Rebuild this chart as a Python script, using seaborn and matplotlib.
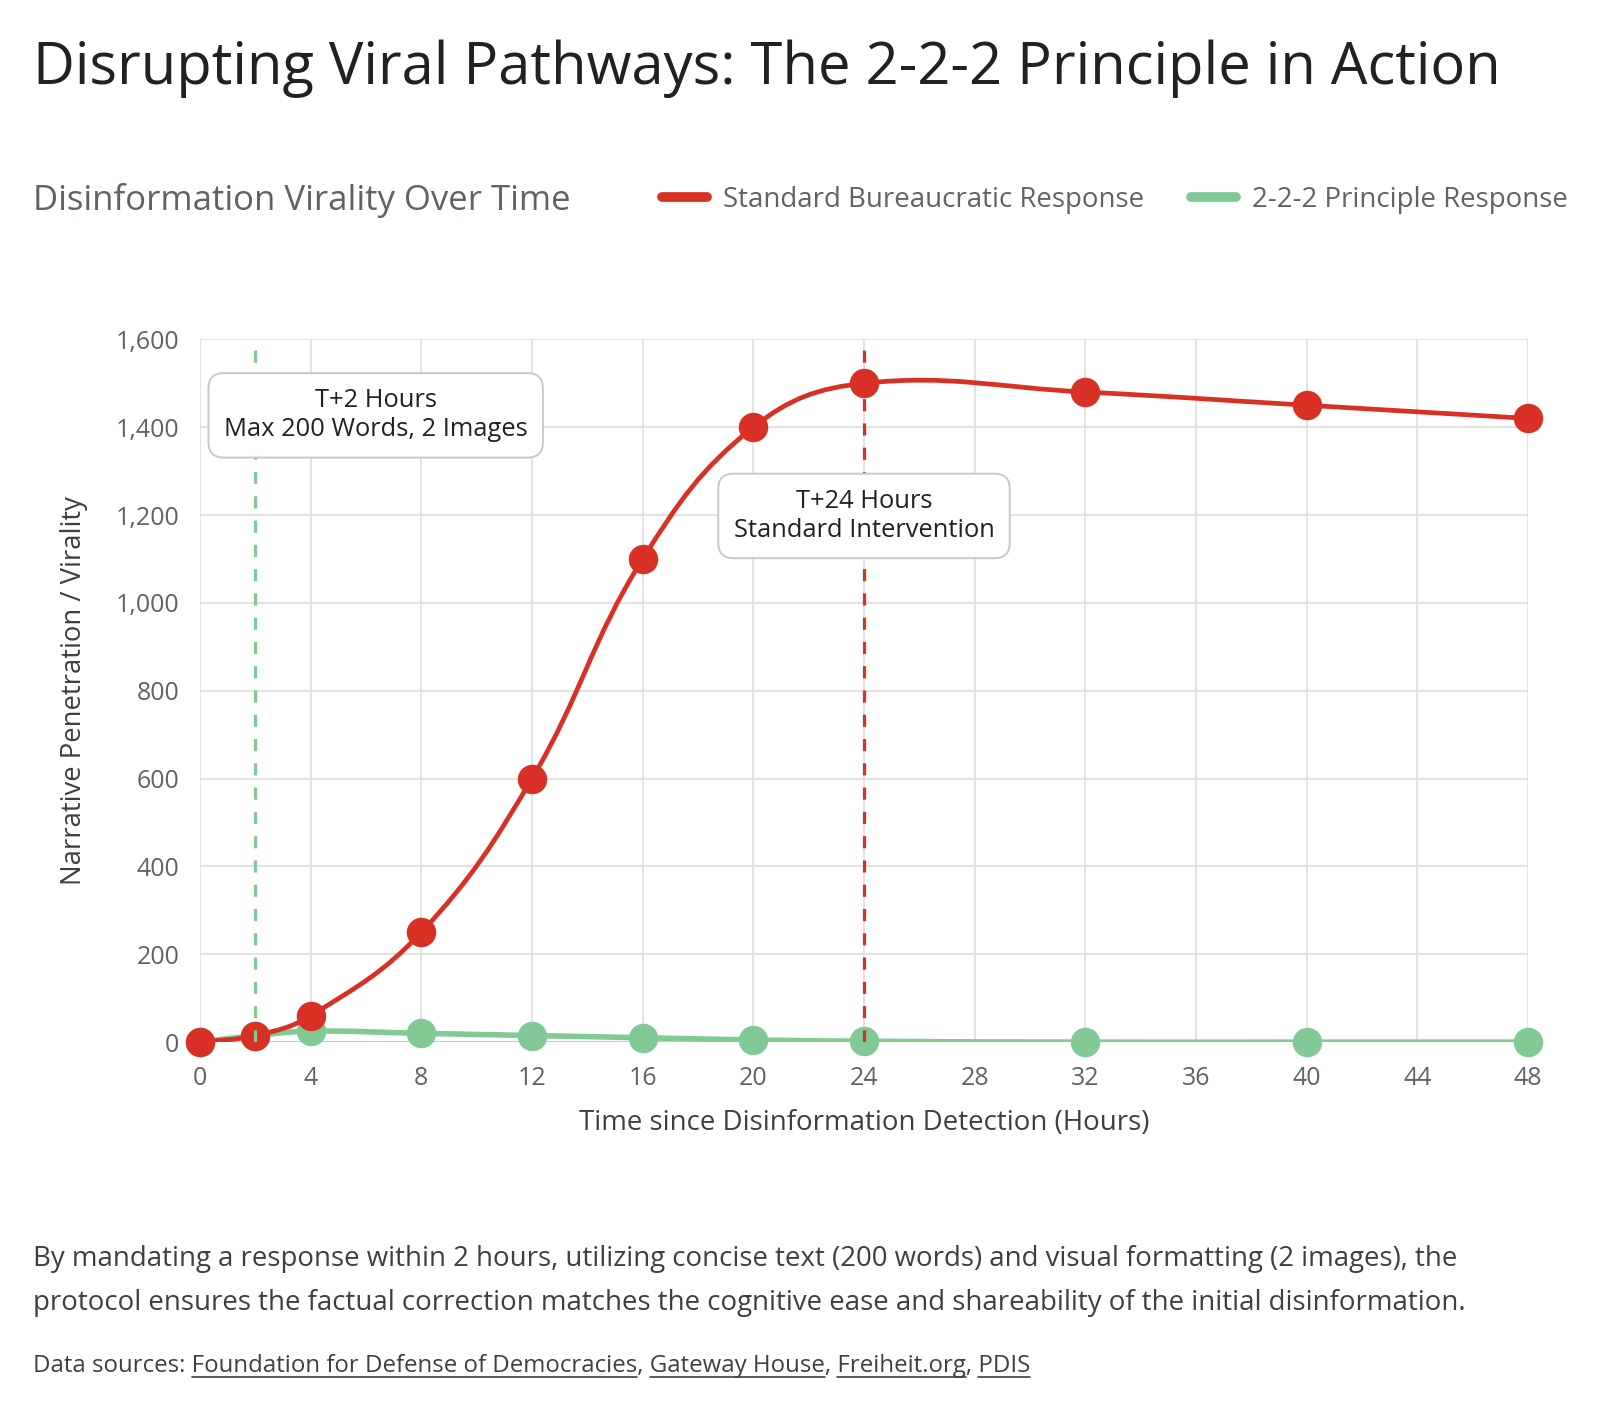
import numpy as np
import pandas as pd
import matplotlib
matplotlib.use("Agg")
import matplotlib.pyplot as plt
import seaborn as sns
from matplotlib.path import Path
from matplotlib.patches import PathPatch
from matplotlib.lines import Line2D

# data
hours = [0, 2, 4, 8, 12, 16, 20, 24, 32, 40, 48]
standard = [0, 15, 60, 250, 600, 1100, 1400, 1500, 1480, 1450, 1420]
principle = [0, 15, 25, 20, 15, 10, 5, 2, 0, 0, 0]
x_ticks = list(range(0, 49, 4))
y_ticks = list(range(0, 1601, 200))

RED = "#d93025"
GREEN = "#81c995"
GREY = "#5f6368"
DARK = "#202124"

sns.set_theme(style="whitegrid")
plt.rcParams["font.family"] = ["Open Sans", "DejaVu Sans"]

fig = plt.figure(figsize=(16, 14.14), dpi=100)
ax = fig.add_axes([0.125, 0.263, 0.83, 0.497])
ax.set_xlim(0, 48)
ax.set_ylim(0, 1600)


def smooth_path(ax, xs, ys, tension=0.4):
    # chart.js style bezier through the points, computed in pixel space
    bb = ax.get_position()
    w = bb.width * fig.get_figwidth() * fig.dpi
    h = bb.height * fig.get_figheight() * fig.dpi
    x0, x1 = ax.get_xlim()
    y0, y1 = ax.get_ylim()
    sx, sy = w / (x1 - x0), h / (y1 - y0)
    P = np.column_stack([np.asarray(xs, float) * sx, np.asarray(ys, float) * sy])
    n = len(P)
    cp_prev = P.copy()
    cp_next = P.copy()
    for i in range(n):
        prev = P[max(i - 1, 0)]
        nxt = P[min(i + 1, n - 1)]
        d01 = np.hypot(*(P[i] - prev))
        d12 = np.hypot(*(nxt - P[i]))
        tot = d01 + d12
        s01 = d01 / tot if tot else 0
        s12 = d12 / tot if tot else 0
        cp_prev[i] = P[i] - tension * s01 * (nxt - prev)
        cp_next[i] = P[i] + tension * s12 * (nxt - prev)
    verts = [P[0]]
    codes = [Path.MOVETO]
    for i in range(n - 1):
        verts += [cp_next[i], cp_prev[i + 1], P[i + 1]]
        codes += [Path.CURVE4] * 3
    verts = np.array(verts) / [sx, sy]
    return Path(verts, codes)


df = pd.DataFrame({"hours": hours, "standard": standard, "principle": principle})

for col, color, lw, z in [("principle", GREEN, 4.0, 2), ("standard", RED, 3.4, 3)]:
    ax.add_patch(PathPatch(smooth_path(ax, df["hours"], df[col]), fill=False,
                           edgecolor=color, lw=lw, capstyle="round", zorder=z))
    sns.scatterplot(data=df, x="hours", y=col, color=color, s=450, edgecolor=color,
                    linewidth=0, ax=ax, zorder=z + 0.5, clip_on=False, legend=False)

# intervention markers
ax.axvline(2, color=GREEN, lw=2.3, ls=(0, (3.8, 3.8)), zorder=5)
ax.axvline(24, color=RED, lw=2.3, ls=(0, (3.8, 3.8)), zorder=5)

box = dict(boxstyle="round,pad=0.6,rounding_size=0.6", fc="white", ec="#c8c8c8", lw=1.4)
ax.text(6.35, 1427, "T+2 Hours\nMax 200 Words, 2 Images", ha="center", va="center",
        fontsize=18.4, color=DARK, bbox=box, zorder=6, linespacing=1.2)
ax.text(24, 1198, "T+24 Hours\nStandard Intervention", ha="center", va="center",
        fontsize=18.4, color=DARK, bbox=box, zorder=6, linespacing=1.2)

ax.set_xticks(x_ticks)
ax.set_yticks(y_ticks)
ax.set_yticklabels([f"{v:,}" for v in y_ticks])
ax.tick_params(axis="y", labelsize=18, labelcolor=GREY, length=0, pad=15)
ax.tick_params(axis="x", labelsize=18, labelcolor=GREY, length=0, pad=17)
ax.grid(True, color="#dedede", lw=1.2)
for s in ax.spines.values():
    s.set_visible(False)
ax.axhline(0, color="#c8c8c8", lw=1.4, zorder=1)
ax.set_xlabel("Time since Disinformation Detection (Hours)", fontsize=19.9, color="#3c4043", labelpad=13)
ax.set_ylabel("Narrative Penetration / Virality", fontsize=19.8, color="#3c4043", labelpad=20)

# titles
fig.text(0.0206, 1 - 69 / 1414, "Disrupting Viral Pathways: The 2-2-2 Principle in Action",
         fontsize=41.7, color=DARK, va="center", ha="left")
fig.text(0.0206, 1 - 200 / 1414, "Disinformation Virality Over Time",
         fontsize=25, color=GREY, va="center", ha="left")

handles = [Line2D([], [], color=RED, lw=7, solid_capstyle="round"),
           Line2D([], [], color=GREEN, lw=7, solid_capstyle="round")]
fig.legend(handles, ["Standard Bureaucratic Response", "2-2-2 Principle Response"],
           loc="center right", bbox_to_anchor=(1568 / 1600, 1 - 200 / 1414), ncol=2,
           frameon=False, fontsize=19.9, labelcolor=GREY, handlelength=1.6,
           handletextpad=0.6, columnspacing=1.7, borderpad=0, borderaxespad=0)

# footer
fig.text(0.0206, 1 - 1281 / 1414,
         "By mandating a response within 2 hours, utilizing concise text (200 words) and visual formatting (2 images), the\n"
         "protocol ensures the factual correction matches the cognitive ease and shareability of the initial disinformation.",
         fontsize=19.9, color="#3c4043", va="center", ha="left", linespacing=1.8)

fig.canvas.draw()
renderer = fig.canvas.get_renderer()


def text_width(s, size):
    t = fig.text(0, 0, s + "x", fontsize=size)
    u = fig.text(0, 0, "x", fontsize=size)
    w = t.get_window_extent(renderer).width - u.get_window_extent(renderer).width
    t.remove()
    u.remove()
    return w


pieces = [("Data sources: ", False), ("Foundation for Defense of Democracies", True), (", ", False),
          ("Gateway House", True), (", ", False), ("Freiheit.org", True), (", ", False), ("PDIS", True)]
fs = 17.3
xpix = 33
ypix = 1414 - 1372
full = "".join(p for p, _ in pieces)
fig.text(xpix / 1600, ypix / 1414, full, fontsize=fs, color="#3c4043", va="baseline", ha="left")
cursor = xpix
for s, link in pieces:
    w = text_width(s, fs)
    if link:
        fig.add_artist(Line2D([cursor / 1600, (cursor + w) / 1600],
                              [(ypix - 5) / 1414, (ypix - 5) / 1414],
                              color="#3c4043", lw=1.2, transform=fig.transFigure))
    cursor += w

fig.savefig("out.png", dpi=100)
